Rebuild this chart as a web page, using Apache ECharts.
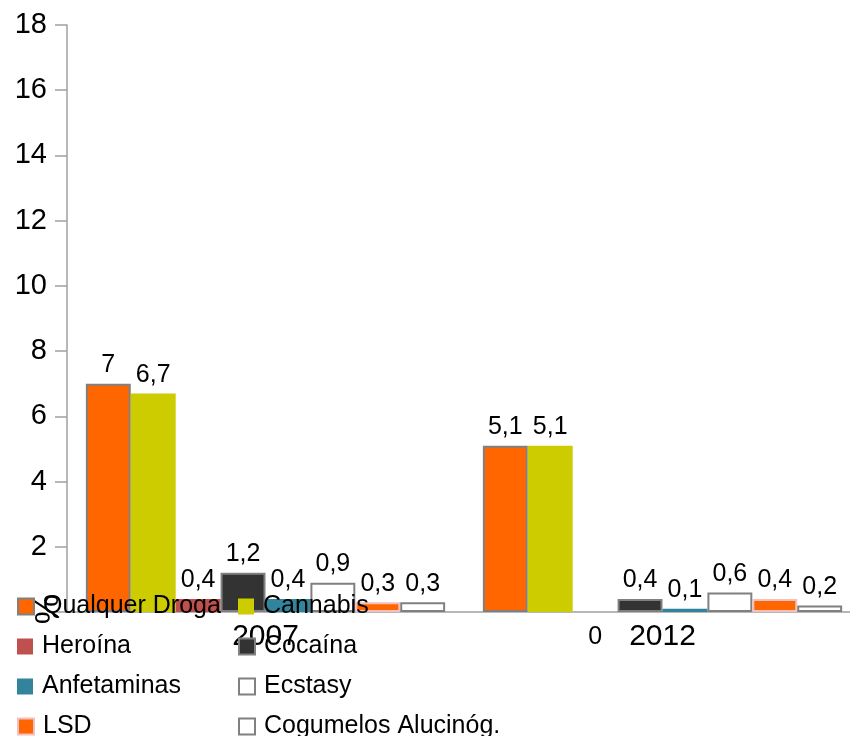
<!DOCTYPE html>
<html>
<head>
<meta charset="utf-8">
<script src="https://cdn.jsdelivr.net/npm/echarts@6/dist/echarts.min.js"></script>
<style>
  html, body { margin: 0; padding: 0; background: #fff; }
  #chart { width: 850px; height: 736px; }
</style>
</head>
<body>
<div id="chart"></div>
<script>
// Prevalência do consumo de drogas (%), por ano
const years = ['2007', '2012'];
const seriesNames = ['Qualquer Droga', 'Cannabis', 'Heroína', 'Cocaína', 'Anfetaminas', 'Ecstasy', 'LSD', 'Cogumelos Alucinóg.'];
const qualquerDroga = [7, 5.1];
const cannabis = [6.7, 5.1];
const heroina = [0.4, 0];
const cocaina = [1.2, 0.4];
const anfetaminas = [0.4, 0.1];
const ecstasy = [0.9, 0.6];
const lsd = [0.3, 0.4];
const cogumelos = [0.3, 0.2];
const yTicks = [0, 2, 4, 6, 8, 10, 12, 14, 16, 18];

const values = [qualquerDroga, cannabis, heroina, cocaina, anfetaminas, ecstasy, lsd, cogumelos];

const styles = [
  { color: '#ff6600', borderColor: '#808080', borderWidth: 2 },
  { color: '#cccc00', borderColor: '#cccc00', borderWidth: 0 },
  { color: '#c0504d', borderColor: '#c0504d', borderWidth: 0 },
  { color: '#333333', borderColor: '#808080', borderWidth: 2 },
  { color: '#31849b', borderColor: '#31849b', borderWidth: 0 },
  { color: '#ffffff', borderColor: '#808080', borderWidth: 2 },
  { color: '#ff6600', borderColor: '#f2c0c0', borderWidth: 2 },
  { color: '#ffffff', borderColor: '#808080', borderWidth: 2 }
];

const FONT = '"Liberation Sans", Arial, sans-serif';
const fmt = v => String(v).replace('.', ',');

const series = seriesNames.map((name, i) => ({
  name: name,
  type: 'bar',
  barGap: '0%',
  barCategoryGap: '9.5%',
  itemStyle: styles[i],
  label: {
    show: true,
    position: 'top',
    distance: 6,
    color: '#000',
    fontSize: 25,
    fontFamily: FONT,
    formatter: p => fmt(p.value)
  },
  data: values[i].map(v => v === 0
    ? { value: v, label: { position: 'bottom', distance: 13 } }
    : v)
}));

// legend laid out in two columns, one component per entry
const legendCols = [17, 238];
const legendRows = [594, 634, 674, 714];
const legends = seriesNames.map((name, i) => ({
  data: [name],
  left: legendCols[i % 2],
  top: legendRows[Math.floor(i / 2)],
  orient: 'horizontal',
  padding: 0,
  itemWidth: 16,
  itemHeight: 16,
  icon: 'rect',
  selectedMode: false,
  itemStyle: { borderColor: styles[i].borderColor, borderWidth: styles[i].borderWidth ? 2 : 0 },
  textStyle: { fontSize: 25, fontFamily: FONT, color: '#000', padding: [2, 0, 0, 4] }
}));

const chart = echarts.init(document.getElementById('chart'), null, { renderer: 'canvas' });
chart.setOption({
  animation: false,
  backgroundColor: '#ffffff',
  grid: { left: 67, top: 25, width: 794, bottom: 124, containLabel: false, outerBoundsMode: 'none' },
  legend: legends,
  xAxis: {
    type: 'category',
    data: years,
    axisLine: { lineStyle: { color: '#a0a0a0', width: 1.5 } },
    axisTick: { show: false },
    axisLabel: { color: '#000', fontSize: 30, fontFamily: FONT, margin: 10 }
  },
  yAxis: {
    type: 'value',
    min: yTicks[0],
    max: yTicks[yTicks.length - 1],
    interval: 2,
    splitLine: { show: false },
    axisLine: { show: true, lineStyle: { color: '#a0a0a0', width: 1.5 } },
    axisTick: { show: true, length: 12, lineStyle: { color: '#a0a0a0', width: 1.5 } },
    axisLabel: {
      color: '#000', fontSize: 29, fontFamily: FONT, margin: 20,
      formatter: v => (v === 0 ? '' : String(v))
    }
  },
  // rotated unit mark at the foot of the value axis
  graphic: {
    elements: [{
      type: 'text',
      x: 44, y: 609,
      z: 100,
      rotation: -Math.PI / 2,
      style: { text: '%', fontSize: 34, fontFamily: 'Liberation Sans', fill: '#000', align: 'center', verticalAlign: 'middle' }
    }]
  },
  series: series
});
</script>
</body>
</html>
